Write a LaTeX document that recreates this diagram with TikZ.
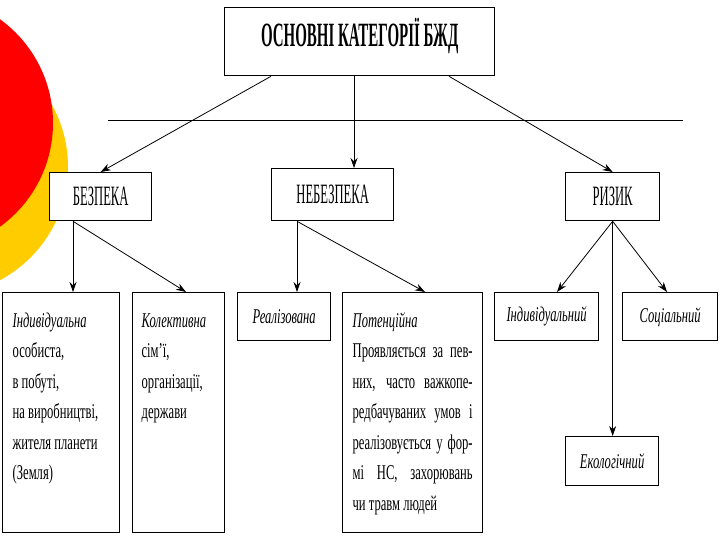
\documentclass[tikz,border=0pt]{standalone}
\usepackage{fontspec}
\setmainfont{Liberation Serif}
\newfontfamily\headfont{Liberation Serif}[FakeStretch=0.44]
\newfontfamily\capsfont{Liberation Serif}[FakeStretch=0.45]
\newfontfamily\bodyfont{Liberation Serif}[FakeStretch=0.6]
\usetikzlibrary{arrows.meta,calc}
\definecolor{discred}{HTML}{FF0000}
\definecolor{discgold}{HTML}{FFCC00}
\tikzset{
  catbox/.style={draw=black, fill=white, line width=1.3pt, rectangle, anchor=north west, inner sep=0pt},
  headbox/.style={catbox, minimum width=270, minimum height=68, text height=22pt, text depth=12pt, font={\headfont\bfseries\fontsize{34}{34}\selectfont}},
  mainbox/.style={catbox, minimum height=48, font={\capsfont\fontsize{28}{28}\selectfont}},
  leafbox/.style={catbox, minimum height=48, font={\bodyfont\itshape\fontsize{21}{24}\selectfont}},
  notebox/.style={catbox, minimum height=240, inner xsep=10pt, inner ysep=13pt, align=left, font={\bodyfont\fontsize{21}{30.5}\selectfont}},
  carrow/.style={-{Stealth[length=10pt,width=7pt]}, line width=0.8pt},
}
\begin{document}
\begin{tikzpicture}[x=1pt, y=-1pt]
  \clip (0,0) rectangle (720,540);
  % background discs
  \fill[discgold] (-60,167) circle (128);
  \fill[discred] (-75,123) circle (128);
  % top level
  \node[headbox] (head) at (224,7) {ОСНОВНІ КАТЕГОРІЇ БЖД};
  \coordinate (rule1) at (108,120);
  \coordinate (rule2) at (683,120);
  \draw[line width=0.8pt] (rule1) -- (rule2);
  \node[mainbox, minimum width=102] (bezp) at (49,172) {БЕЗПЕКА};
  \node[mainbox, minimum width=122, minimum height=52] (nebez) at (271,168) {НЕБЕЗПЕКА};
  \node[mainbox, minimum width=94] (riz) at (565,172) {РИЗИК};
  % second level
  \node[notebox, minimum width=117] (indiv) at (2,292)
    {\parbox[t][214pt][t]{97pt}{\strut\textit{Індивідуальна}\\особиста,\\в побуті,\\на виробництві,\\жителя планети\\(Земля)}};
  \node[notebox, minimum width=92, inner xsep=9pt] (koll) at (132,292)
    {\parbox[t][214pt][t]{74pt}{\strut\textit{Колективна}\\сім’ї,\\організації,\\держави}};
  \node[leafbox, minimum width=93] (real) at (237,292) {Реалізована};
  \node[notebox, minimum width=140] (poten) at (342,292)
    {\parbox[t][214pt][t]{120pt}{\strut\textit{Потенційна}\\
      \makebox[\linewidth][s]{Проявляється за пев-}\\
      \makebox[\linewidth][s]{них, часто важкопе-}\\
      \makebox[\linewidth][s]{редбачуваних умов і}\\
      \makebox[\linewidth][s]{реалізовується у фор-}\\
      \makebox[\linewidth][s]{мі НС, захорювань}\\
      чи травм людей}};
  \node[leafbox, minimum width=104] (indr) at (494,292) {Індивідуальний};
  \node[leafbox, minimum width=95] (soc) at (622,292) {Соціальний};
  \node[leafbox, minimum width=93, minimum height=49] (eco) at (565,436) {Екологічний};
  % connectors
  \coordinate (hs1) at ([xshift=47pt]head.south west);
  \coordinate (hs2) at ([xshift=130pt]head.south west);
  \coordinate (hs3) at ([xshift=225pt]head.south west);
  \draw[carrow] (hs1) -- (bezp.north);
  \draw[carrow] (hs2) -- (hs2 |- nebez.north);
  \draw[carrow] (hs3) -- (riz.north);
  \coordinate (bs) at ([xshift=24pt]bezp.south west);
  \draw[carrow] (bs) -- (bs |- indiv.north);
  \draw[carrow] (bs) -- ([xshift=54pt]koll.north west);
  \coordinate (ns) at ([xshift=26pt]nebez.south west);
  \draw[carrow] (ns) -- (ns |- real.north);
  \draw[carrow] (ns) -- ([xshift=83pt]poten.north west);
  \draw[carrow] (riz.south) -- ([xshift=63pt]indr.north west);
  \draw[carrow] (riz.south) -- ([xshift=45pt]soc.north west);
  \draw[carrow] (riz.south) -- (riz.south |- eco.north);
\end{tikzpicture}
\end{document}
